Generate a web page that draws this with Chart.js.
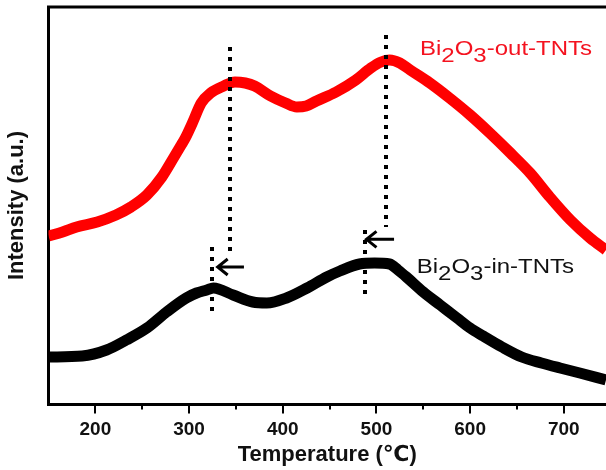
<!DOCTYPE html>
<html>
<head>
<meta charset="utf-8">
<script src="https://cdn.jsdelivr.net/npm/chart.js@4.4.0/dist/chart.umd.min.js"></script>
<style>
  body { margin: 0; background: #fff; }
  canvas { display: block; }
</style>
</head>
<body>
<canvas id="myChart" width="606" height="470"></canvas>
<script>
// temperatures (C) and intensities (a.u.)
var outTemp = [150, 165, 180, 202, 222, 238, 255, 271, 284, 291, 296, 304, 313, 323, 337, 349, 360, 370, 387, 403, 415, 425, 436, 457, 478, 494, 505, 514, 525, 536, 557, 578, 600, 621, 643, 664, 685, 707, 728, 745];
var outVals = [168, 172, 177, 182, 189, 197, 209, 227, 247, 258, 266, 282, 301, 311, 318, 322, 321, 318, 308, 301, 297, 298, 303, 312, 324, 336, 342, 344, 341, 334, 321, 306, 289, 271, 251, 231, 207, 184, 166, 154];

var inTemp = [150, 186, 212, 233, 255, 276, 297, 308, 319, 326, 347, 368, 383, 404, 426, 447, 461, 482, 498, 514, 523, 532, 550, 568, 586, 600, 614, 634, 655, 676, 696, 717, 745];
var inVals = [47, 48, 54, 64, 76, 92, 106, 111, 114, 116, 109, 102, 101, 106, 116, 127, 133, 140, 141, 140, 134, 127, 112, 99, 86, 76, 68, 57, 47, 41, 36, 31, 24];

var xTicks = [200, 300, 400, 500, 600, 700];
var xMinorTicks = [250, 350, 450, 550, 650];

// dotted peak markers: [temp, yFrom, yTo]
var peakLines = [[344, 357, 147], [510, 369, 177], [325, 157, 87], [488, 174, 106]];
// shift arrows: [tempFrom, tempTo, y]
var shiftArrows = [[329.5, 358.6, 137], [488.3, 518.8, 164.7]];
// curve labels: [text parts, temp, y, colour]
var curveLabels = [
  [['Bi', '2', 'O', '3', '-out-TNTs'], 546.5, 349, '#f4121f'],
  [['Bi', '2', 'O', '3', '-in-TNTs'], 543, 130.7, '#111']
];

function toPoints(xs, ys) {
  return xs.map(function (t, i) { return { x: t, y: ys[i] }; });
}

var extras = {
  id: 'extras',
  afterDatasetsDraw: function (chart) {
    var ctx = chart.ctx, x = chart.scales.x, y = chart.scales.y, area = chart.chartArea;
    ctx.save();

    // dotted vertical lines
    ctx.strokeStyle = '#000';
    ctx.lineWidth = 4;
    ctx.setLineDash([4, 6]);
    peakLines.forEach(function (p) {
      var px = Math.round(x.getPixelForValue(p[0]));
      ctx.beginPath();
      ctx.moveTo(px, y.getPixelForValue(p[1]));
      ctx.lineTo(px, y.getPixelForValue(p[2]));
      ctx.stroke();
    });
    ctx.setLineDash([]);

    // arrows pointing to lower temperature
    ctx.lineWidth = 3;
    shiftArrows.forEach(function (a) {
      var x1 = x.getPixelForValue(a[0]), x2 = x.getPixelForValue(a[1]), py = y.getPixelForValue(a[2]);
      ctx.beginPath();
      ctx.moveTo(x2, py);
      ctx.lineTo(x1 + 1, py);
      ctx.moveTo(x1 + 11, py - 8);
      ctx.lineTo(x1 + 1, py);
      ctx.lineTo(x1 + 11, py + 8);
      ctx.stroke();
    });

    // curve labels with subscripts
    ctx.font = '20px "Liberation Sans", Arial, sans-serif';
    ctx.textBaseline = 'alphabetic';
    curveLabels.forEach(function (l) {
      var px = x.getPixelForValue(l[1]), py = y.getPixelForValue(l[2]);
      ctx.save();
      ctx.translate(px, py);
      ctx.scale(1.2, 1);
      ctx.fillStyle = l[3];
      var cx = 0;
      l[0].forEach(function (part, i) {
        var dy = (i == 1 || i == 3) ? 6.5 : 0;
        ctx.fillText(part, cx, dy);
        cx += ctx.measureText(part).width;
      });
      ctx.restore();
    });

    // top frame line
    ctx.strokeStyle = '#000';
    ctx.lineWidth = 3;
    ctx.beginPath();
    ctx.moveTo(area.left - 1.5, area.top);
    ctx.lineTo(area.right, area.top);
    ctx.stroke();

    // tick marks under the x axis
    ctx.lineWidth = 2;
    var base = area.bottom + 1.5;
    xTicks.forEach(function (v) {
      var px = Math.round(x.getPixelForValue(v));
      ctx.beginPath(); ctx.moveTo(px, base); ctx.lineTo(px, base + 8); ctx.stroke();
    });
    xMinorTicks.forEach(function (v) {
      var px = Math.round(x.getPixelForValue(v));
      ctx.beginPath(); ctx.moveTo(px, base); ctx.lineTo(px, base + 4); ctx.stroke();
    });
    ctx.restore();
  }
};

var ctx = document.getElementById('myChart').getContext('2d');
var myChart = new Chart(ctx, {
  type: 'line',
  data: {
    datasets: [{
      label: 'Bi2O3-out-TNTs',
      data: toPoints(outTemp, outVals),
      borderColor: '#ff0000',
      borderWidth: 11,
      pointRadius: 0,
      cubicInterpolationMode: 'monotone'
    }, {
      label: 'Bi2O3-in-TNTs',
      data: toPoints(inTemp, inVals),
      borderColor: '#000000',
      borderWidth: 11,
      pointRadius: 0,
      cubicInterpolationMode: 'monotone'
    }]
  },
  options: {
    responsive: false,
    animation: false,
    devicePixelRatio: 1,
    layout: { padding: { left: 0, top: 7, right: 0, bottom: 0 } },
    plugins: { legend: { display: false }, tooltip: { enabled: false } },
    scales: {
      x: {
        type: 'linear',
        min: 150,
        max: 745,
        afterBuildTicks: function (scale) {
          scale.ticks = xTicks.map(function (v) { return { value: v }; });
        },
        afterFit: function (scale) { scale.height = 66; },
        grid: { display: false, drawTicks: false },
        border: { display: true, width: 3, color: '#000' },
        ticks: {
          padding: 14,
          color: '#111',
          maxRotation: 0,
          font: { family: '"Liberation Sans", Arial, sans-serif', size: 19, weight: 'bold' }
        },
        title: {
          display: true,
          text: 'Temperature (\u2103)',
          color: '#111',
          padding: { top: 2, bottom: 2 },
          font: { family: '"Liberation Sans", "DejaVu Sans", Arial, sans-serif', size: 22, weight: 'bold' }
        }
      },
      y: {
        min: 0,
        max: 397,
        afterFit: function (scale) { scale.width = 48.5; },
        grid: { display: false, drawTicks: false },
        border: { display: true, width: 3, color: '#000' },
        ticks: { display: false },
        title: {
          display: true,
          text: 'Intensity (a.u.)',
          color: '#111',
          padding: { top: 4, bottom: 4 },
          font: { family: '"Liberation Sans", Arial, sans-serif', size: 22, weight: 'bold' }
        }
      }
    }
  },
  plugins: [extras]
});
</script>
</body>
</html>
